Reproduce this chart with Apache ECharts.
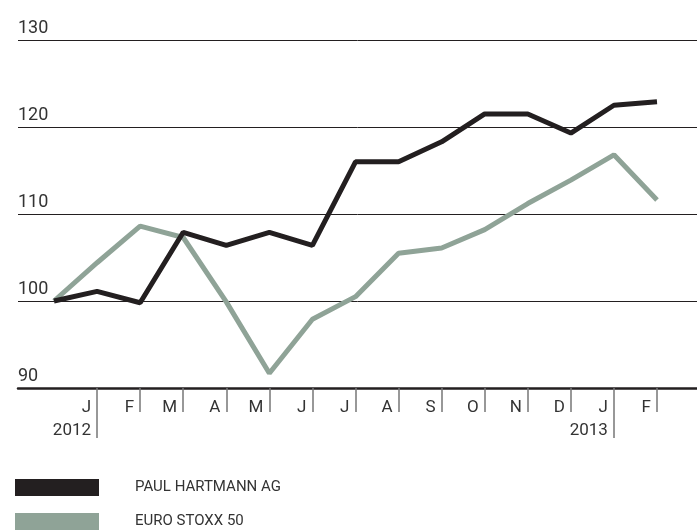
<!DOCTYPE html>
<html>
<head>
<meta charset="utf-8">
<script src="https://cdn.jsdelivr.net/npm/echarts@6/dist/echarts.min.js"></script>
<style>
  html, body { margin: 0; padding: 0; background: #fff; }
  #chart { width: 697px; height: 531px; }
</style>
</head>
<body>
<div id="chart"></div>
<script>
// month labels sit left of each tick; index 0 is the start point (end of 2011)
const months = ['', 'J', 'F', 'M', 'A', 'M', 'J', 'J', 'A', 'S', 'O', 'N', 'D', 'J', 'F'];
const years = { 1: '2012', 13: '2013' };
const hartmann = [100, 101.1, 99.8, 107.9, 106.4, 107.9, 106.4, 116.0, 116.0, 118.3, 121.5, 121.5, 119.3, 122.5, 122.9];
const stoxx = [100, 104.4, 108.6, 107.3, 99.9, 91.7, 97.9, 100.5, 105.5, 106.1, 108.2, 111.2, 113.9, 116.8, 111.6];
const yTicks = [90, 100, 110, 120, 130];

const FONT = 'Roboto';
const TXT = '#333';

const chart = echarts.init(document.getElementById('chart'));
chart.setOption({
  animation: false,
  textStyle: { fontFamily: FONT },
  grid: [
    { left: 18, right: 0, top: 40, bottom: 143 },
    { left: 54, right: 40, top: 40, bottom: 143 }
  ],
  xAxis: [
    {
      gridIndex: 0, type: 'category', data: months, boundaryGap: false,
      axisLine: { show: true, lineStyle: { color: '#231f20', width: 2.5 } },
      axisTick: { show: false }, axisLabel: { show: false }, splitLine: { show: false }
    },
    {
      gridIndex: 1, type: 'category', data: months, boundaryGap: false,
      axisLine: { show: false },
      axisTick: {
        show: true, length: 24, inside: false,
        interval: (i) => i > 0 && !years[i],
        lineStyle: { color: '#777', width: 1.5 }
      },
      axisLabel: {
        show: true, interval: 0, align: 'right', margin: 8,
        padding: [0, 6, 0, 0],
        fontFamily: FONT, fontSize: 17, lineHeight: 23, color: TXT,
        formatter: (v, i) => years[i] ? v + '\n' + years[i] : v
      },
      splitLine: { show: false }
    },
    {
      // long ticks under the January of each year
      gridIndex: 1, type: 'category', data: months, boundaryGap: false, position: 'bottom',
      axisLine: { show: false },
      axisTick: {
        show: true, length: 50,
        interval: (i) => !!years[i],
        lineStyle: { color: '#777', width: 1.5 }
      },
      axisLabel: { show: false }, splitLine: { show: false }
    }
  ],
  yAxis: [
    {
      gridIndex: 0, type: 'value', min: 90, max: 130, interval: 10,
      axisLine: { show: false }, axisTick: { show: false },
      axisLabel: {
        inside: true, margin: 0, align: 'left', verticalAlign: 'bottom',
        padding: [0, 0, 3, 0],
        fontFamily: FONT, fontSize: 18, color: TXT,
        formatter: (v) => yTicks.includes(v) ? String(v) : ''
      },
      splitLine: { show: true, lineStyle: { color: '#231f20', width: 1 } }
    },
    {
      gridIndex: 1, type: 'value', min: 90, max: 130, interval: 10,
      show: false
    }
  ],
  legend: {
    data: ['PAUL HARTMANN AG', 'EURO STOXX 50'],
    orient: 'vertical', left: 15, top: 479, padding: 0,
    icon: 'rect', itemWidth: 84, itemHeight: 17, itemGap: 17,
    textStyle: { fontFamily: FONT, fontSize: 15, color: TXT, padding: [3, 0, 0, 31] }
  },
  series: [
    {
      name: 'EURO STOXX 50', type: 'line', xAxisIndex: 1, yAxisIndex: 1,
      data: stoxx, symbol: 'none',
      lineStyle: { color: '#8fa397', width: 5 }, itemStyle: { color: '#8fa397' }
    },
    {
      name: 'PAUL HARTMANN AG', type: 'line', xAxisIndex: 1, yAxisIndex: 1,
      data: hartmann, symbol: 'none',
      lineStyle: { color: '#231f20', width: 5 }, itemStyle: { color: '#231f20' }
    }
  ]
});
</script>
</body>
</html>
